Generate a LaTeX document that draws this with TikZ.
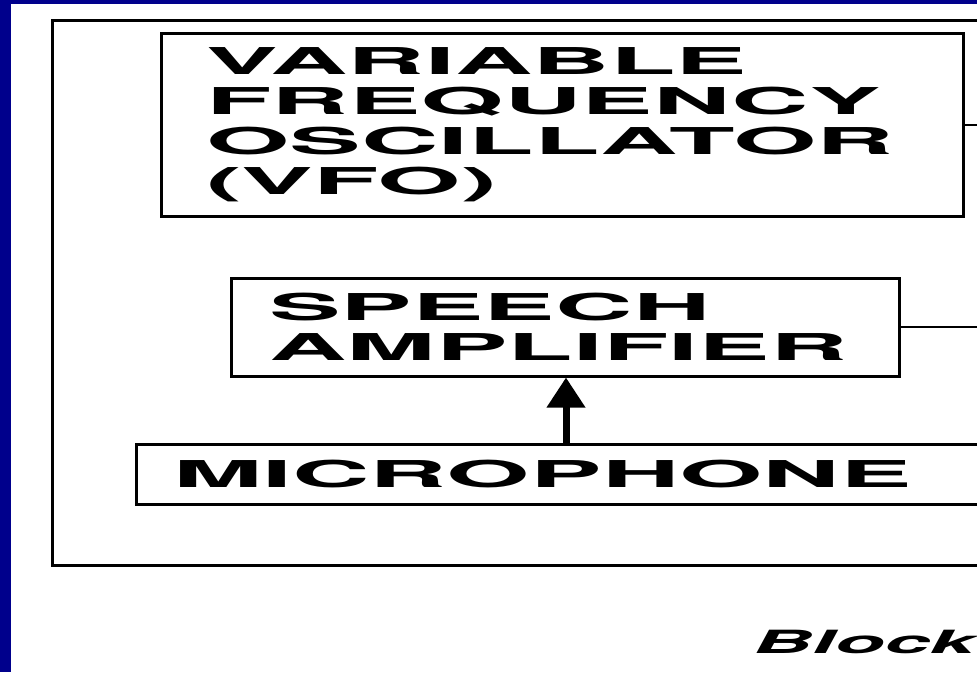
\documentclass[tikz,border=0pt]{standalone}
\usepackage{fontspec}
\usepackage{xcolor}
\usetikzlibrary{positioning,arrows.meta}
\newfontfamily\blockfont{TeX Gyre Heros}[FakeStretch=2.9]
\newfontfamily\captionfont{TeX Gyre Heros}[FakeStretch=2.55]
\definecolor{slidenavy}{RGB}{0,0,140}

\begin{document}
\begin{tikzpicture}[x=1pt,y=-1pt,
  box/.style={draw, line width=2.5pt, anchor=north west, inner ysep=0pt, align=left,
    font=\blockfont\bfseries\fontsize{37}{40}\selectfont},
  wire/.style={line width=2pt}]

\useasboundingbox (0,0) rectangle (977,672);
\clip (0,0) rectangle (977,672);
\fill[white] (0,0) rectangle (977,672);

% slide border
\fill[slidenavy] (0,0) rectangle (11,672);
\fill[slidenavy] (0,0) rectangle (977,4);

% outer frame
\draw[line width=3pt] (1000,20) -- (52,20) -- (52,565) -- (1000,565);

% blocks
\node[box, text width=712pt, inner xsep=45pt, minimum height=183pt] (vfo) at (160,32)
  {VARIABLE\\FREQUENCY\\OSCILLATOR\\(VFO)};
\node[box, text width=592pt, inner xsep=38pt, minimum height=98pt] (speechamp) at (230,277)
  {SPEECH\\AMPLIFIER};
\node[box, text width=800pt, inner xsep=37pt, minimum height=60pt] (mic) at (135,443)
  {MICROPHONE};

% connectors
\coordinate (vfoout) at (1000,122);
\coordinate (ampout) at (1000,325);
\coordinate (tap) at (566,0);
\draw[wire] (vfo.east) -- (vfo.east -| vfoout);
\draw[wire] (speechamp.east) -- (speechamp.east -| ampout);
\draw[line width=7pt, -{Triangle[length=30pt,width=37pt]}] (tap |- mic.north) -- (tap |- speechamp.south);

\node[anchor=base west, inner sep=0pt, font=\captionfont\bfseries\itshape\fontsize{32}{34}\selectfont] (caption) at (753,653) {Block};

\end{tikzpicture}
\end{document}
